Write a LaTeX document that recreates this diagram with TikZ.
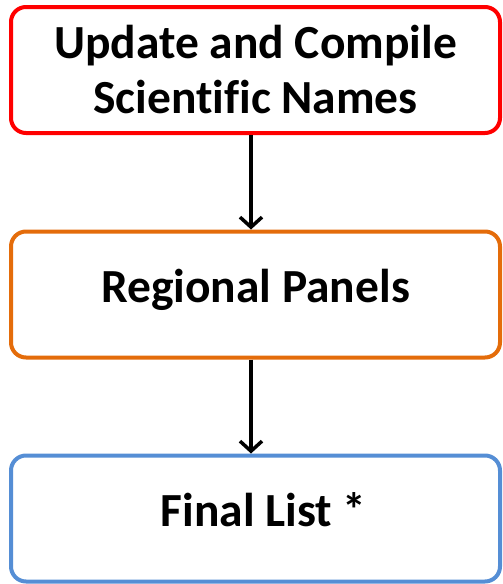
\documentclass[tikz,border=0pt]{standalone}
\usepackage{fontspec}
\setmainfont[Ligatures=NoCommon]{Carlito}
\usepackage{tikz}
\usetikzlibrary{arrows.meta, positioning}
\definecolor{stepred}{HTML}{FF0000}
\definecolor{steporange}{HTML}{E46C0A}
\definecolor{stepblue}{HTML}{558ED5}

\begin{document}
\begin{tikzpicture}[
        x=1pt, y=-1pt,
        font=\fontsize{47.5}{55}\selectfont\bfseries,
        stage/.style={
            draw,
            fill=white,
            rounded corners=15pt,
            line width=4pt,
            minimum width=489pt,
            minimum height=126pt,
            align=center,
            inner sep=0pt
        },
        oneline/.style={text height=34pt, text depth=19pt},
        arrow/.style={-{Straight Barb[length=10pt, width=22pt]}, line width=3.5pt, draw=black}
    ]
        \useasboundingbox (0,0) rectangle (503,584);

        \node[stage, draw=stepred] (compile) at (255.5,70) {Update and Compile\\Scientific Names};
        \node[stage, oneline, draw=steporange] (panels) at (255.5,294.5) {Regional Panels};
        \node[stage, oneline, draw=stepblue] (final) at (255.5,518.5) {\hspace*{16pt}Final List *};

        \draw[arrow] ([xshift=-4.5pt]compile.south) -- ([xshift=-4.5pt]panels.north);
        \draw[arrow] ([xshift=-4.5pt]panels.south) -- ([xshift=-4.5pt]final.north);
    \end{tikzpicture}
\end{document}
